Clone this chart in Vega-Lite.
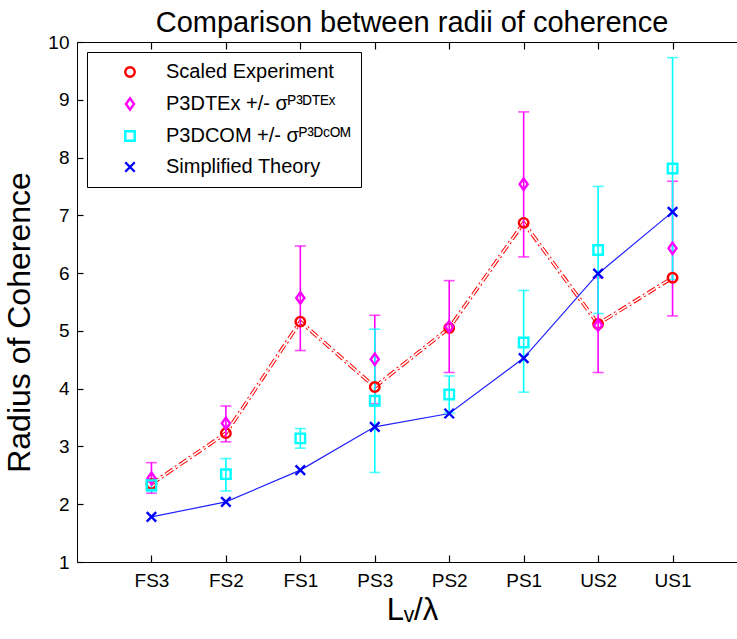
{
  "$schema": "https://vega.github.io/schema/vega-lite/v6.json",
  "autosize": "none",
  "width": 670,
  "height": 520,
  "padding": {"left": 77, "top": 42, "right": 0, "bottom": 77},
  "background": "white",
  "title": {"text": "Comparison between radii of coherence", "fontSize": 29, "font": "Liberation Sans", "fontWeight": "normal", "color": "black", "anchor": "middle", "offset": -5},
  "config": {
    "view": {"stroke": null},
    "axis": {"grid": false, "domainColor": "black", "tickColor": "black", "labelColor": "black", "titleColor": "black", "labelFont": "Liberation Sans", "titleFont": "Liberation Sans", "titleFontWeight": "normal", "labelFontWeight": "normal", "labelFontSize": 19, "domainWidth": 1, "tickWidth": 1.2},
    "legend": {"orient": "none", "legendX": 10, "legendY": 10, "strokeColor": "black", "fillColor": "white", "padding": 10, "labelFont": "Liberation Sans", "labelFontSize": 20, "labelColor": "black", "symbolSize": 90, "symbolStrokeWidth": 2.4, "rowPadding": 11, "symbolOffset": 23, "labelOffset": 26, "labelLimit": 400}
  },
  "data": {"values": [
    {"series": "Scaled Experiment", "i": 1, "y": 2.35},
    {"series": "Scaled Experiment", "i": 2, "y": 3.23},
    {"series": "Scaled Experiment", "i": 3, "y": 5.16},
    {"series": "Scaled Experiment", "i": 4, "y": 4.03},
    {"series": "Scaled Experiment", "i": 5, "y": 5.05},
    {"series": "Scaled Experiment", "i": 6, "y": 6.87},
    {"series": "Scaled Experiment", "i": 7, "y": 5.12},
    {"series": "Scaled Experiment", "i": 8, "y": 5.92},
    {"series": "P3DTEx", "i": 1, "y": 2.45, "lo": 2.19, "hi": 2.72},
    {"series": "P3DTEx", "i": 2, "y": 3.40, "lo": 3.08, "hi": 3.70},
    {"series": "P3DTEx", "i": 3, "y": 5.57, "lo": 4.66, "hi": 6.47},
    {"series": "P3DTEx", "i": 4, "y": 4.51, "lo": 3.74, "hi": 5.27},
    {"series": "P3DTEx", "i": 5, "y": 5.07, "lo": 4.28, "hi": 5.87},
    {"series": "P3DTEx", "i": 6, "y": 7.54, "lo": 6.28, "hi": 8.79},
    {"series": "P3DTEx", "i": 7, "y": 5.10, "lo": 4.28, "hi": 5.92},
    {"series": "P3DTEx", "i": 8, "y": 6.43, "lo": 5.26, "hi": 7.59},
    {"series": "P3DCOM", "i": 1, "y": 2.33, "lo": 2.22, "hi": 2.44},
    {"series": "P3DCOM", "i": 2, "y": 2.52, "lo": 2.23, "hi": 2.79},
    {"series": "P3DCOM", "i": 3, "y": 3.14, "lo": 2.97, "hi": 3.31},
    {"series": "P3DCOM", "i": 4, "y": 3.79, "lo": 2.55, "hi": 5.03},
    {"series": "P3DCOM", "i": 5, "y": 3.90, "lo": 3.58, "hi": 4.22},
    {"series": "P3DCOM", "i": 6, "y": 4.80, "lo": 3.94, "hi": 5.70},
    {"series": "P3DCOM", "i": 7, "y": 6.40, "lo": 5.30, "hi": 7.50},
    {"series": "P3DCOM", "i": 8, "y": 7.81, "lo": 5.89, "hi": 9.73},
    {"series": "Simplified Theory", "i": 1, "y": 1.78},
    {"series": "Simplified Theory", "i": 2, "y": 2.04},
    {"series": "Simplified Theory", "i": 3, "y": 2.59},
    {"series": "Simplified Theory", "i": 4, "y": 3.34},
    {"series": "Simplified Theory", "i": 5, "y": 3.57},
    {"series": "Simplified Theory", "i": 6, "y": 4.53},
    {"series": "Simplified Theory", "i": 7, "y": 5.99},
    {"series": "Simplified Theory", "i": 8, "y": 7.06}
  ]},
  "encoding": {
    "x": {"field": "i", "type": "quantitative", "scale": {"domain": [0, 9], "nice": false, "zero": false}, "axis": {"orient": "bottom", "values": [1, 2, 3, 4, 5, 6, 7, 8], "labelExpr": "['','FS3','FS2','FS1','PS3','PS2','PS1','US2','US1'][datum.value]", "tickSize": -7, "labelPadding": 16, "title": "Lᵥ/λ", "titleFontSize": 31, "titlePadding": 5}},
    "y": {"field": "y", "type": "quantitative", "scale": {"domain": [1, 10], "nice": false, "zero": false}, "axis": {"orient": "left", "values": [1, 2, 3, 4, 5, 6, 7, 8, 9, 10], "format": "d", "tickSize": -6, "labelPadding": 14, "title": "Radius of Coherence", "titleFontSize": 32, "titlePadding": 11, "titleY": 280}}
  },
  "layer": [
    {
      "transform": [{"filter": "datum.series == 'Scaled Experiment'"}],
      "mark": {"type": "line", "color": "#ff0000", "strokeWidth": 3.6, "strokeDash": [9, 3, 2, 3]},
      "encoding": {"x": {"field": "i", "type": "quantitative", "axis": null}}
    },
    {
      "transform": [{"filter": "datum.series == 'Scaled Experiment'"}],
      "mark": {"type": "line", "color": "white", "strokeWidth": 1.6, "strokeDash": [9, 3, 2, 3]},
      "encoding": {
        "x": {"field": "i", "type": "quantitative", "axis": {"orient": "top", "values": [1, 2, 3, 4, 5, 6, 7, 8], "labels": false, "tickSize": -7, "title": null}}
      }
    },
    {
      "layer": [
        {
          "transform": [{"filter": "datum.series == 'Simplified Theory'"}],
          "mark": {"type": "line", "color": "#2020ff", "strokeWidth": 1.2}
        },
        {
          "transform": [{"filter": "datum.series == 'P3DTEx'"}],
          "mark": {"type": "rule", "strokeWidth": 1.6, "color": "#ff00ff"},
          "encoding": {"y": {"field": "lo", "type": "quantitative"}, "y2": {"field": "hi"}}
        },
        {
          "transform": [{"filter": "datum.series == 'P3DTEx'"}],
          "mark": {"type": "tick", "orient": "horizontal", "size": 11, "thickness": 1.6, "color": "#ff00ff"},
          "encoding": {"y": {"field": "lo", "type": "quantitative"}}
        },
        {
          "transform": [{"filter": "datum.series == 'P3DTEx'"}],
          "mark": {"type": "tick", "orient": "horizontal", "size": 11, "thickness": 1.6, "color": "#ff00ff"},
          "encoding": {"y": {"field": "hi", "type": "quantitative"}}
        },
        {
          "transform": [{"filter": "datum.series == 'P3DCOM'"}],
          "mark": {"type": "rule", "strokeWidth": 1.6, "color": "#00ffff"},
          "encoding": {"y": {"field": "lo", "type": "quantitative"}, "y2": {"field": "hi"}}
        },
        {
          "transform": [{"filter": "datum.series == 'P3DCOM'"}],
          "mark": {"type": "tick", "orient": "horizontal", "size": 11, "thickness": 1.6, "color": "#00ffff"},
          "encoding": {"y": {"field": "lo", "type": "quantitative"}}
        },
        {
          "transform": [{"filter": "datum.series == 'P3DCOM'"}],
          "mark": {"type": "tick", "orient": "horizontal", "size": 11, "thickness": 1.6, "color": "#00ffff"},
          "encoding": {"y": {"field": "hi", "type": "quantitative"}}
        },
        {
          "mark": {"type": "point", "filled": false, "strokeWidth": 2.4, "size": 90, "opacity": 1},
          "encoding": {
            "color": {"field": "series", "type": "nominal", "title": null, "scale": {"domain": ["Scaled Experiment", "P3DTEx", "P3DCOM", "Simplified Theory"], "range": ["#ff0000", "#ff00ff", "#00ffff", "#0000ff"]}, "legend": {"labelExpr": "datum.label == 'P3DTEx' ? 'P3DTEx +/- σᴾ³ᴰᵀᴱˣ' : datum.label == 'P3DCOM' ? 'P3DCOM +/- σᴾ³ᴰᶜᴼᴹ\u00a0\u00a0\u00a0\u00a0' : datum.label"}},
            "shape": {"field": "series", "type": "nominal", "title": null, "legend": {"labelExpr": "datum.label == 'P3DTEx' ? 'P3DTEx +/- σᴾ³ᴰᵀᴱˣ' : datum.label == 'P3DCOM' ? 'P3DCOM +/- σᴾ³ᴰᶜᴼᴹ\u00a0\u00a0\u00a0\u00a0' : datum.label"}, "scale": {"domain": ["Scaled Experiment", "P3DTEx", "P3DCOM", "Simplified Theory"], "range": ["circle", "M0,-1.2L0.85,0L0,1.2L-0.85,0Z", "square", "M-1,-1L1,1M1,-1L-1,1"]}}
          }
        }
      ]
    }
  ]
}
